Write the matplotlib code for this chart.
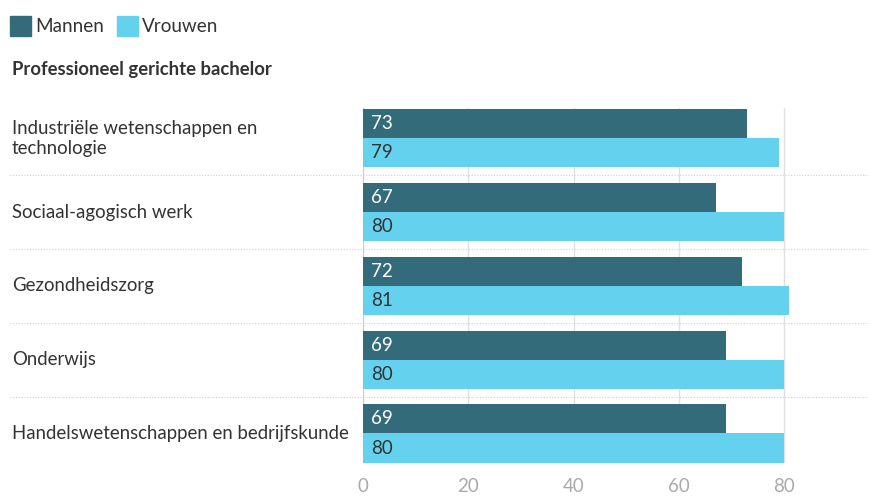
import matplotlib.pyplot as plt
import numpy as np

categories = [
    "Industriële wetenschappen en\ntechnologie",
    "Sociaal-agogisch werk",
    "Gezondheidszorg",
    "Onderwijs",
    "Handelswetenschappen en bedrijfskunde",
]
mannen = [73, 67, 72, 69, 69]
vrouwen = [79, 80, 81, 80, 80]
xticks = [0, 20, 40, 60, 80]

DARK = "#336b7a"
LIGHT = "#64d2ee"
TEXT = "#333333"

plt.rcParams["font.family"] = ["Lato", "DejaVu Sans"]

fig = plt.figure(figsize=(8.69, 4.96), dpi=100)
ax = fig.add_axes([363 / 869, 1 - 463 / 496, 506 / 869, 355 / 496])

y = np.arange(len(categories))
h = 0.395
ax.barh(y - h / 2, mannen, height=h, color=DARK, zorder=2)
ax.barh(y + h / 2, vrouwen, height=h, color=LIGHT, zorder=2)

# value labels inside bars
for i in range(len(categories)):
    ax.text(1.5, y[i] - h / 2, str(mannen[i]), color="white", fontsize=13.5,
            va="center", ha="left", zorder=3)
    ax.text(1.5, y[i] + h / 2, str(vrouwen[i]), color=TEXT, fontsize=13.5,
            va="center", ha="left", zorder=3)

ax.set_xlim(0, 506 / 5.2625)
ax.set_ylim(len(categories) - 0.6, -0.41)

# vertical gridlines
for t in xticks:
    ax.axvline(t, color="#cccccc" if t == 0 else "#e0e0e0", lw=1, zorder=1)

# dotted separators between groups
for i in range(len(categories) - 1):
    ax.plot([-0.698, 1], [i + 0.5, i + 0.5], transform=ax.get_yaxis_transform(),
            color="#d0d0d0", lw=0.8, ls=(0, (1, 1.5)), clip_on=False, zorder=1)

ax.set_xticks(xticks)
ax.set_xticklabels([str(t) for t in xticks])
ax.tick_params(axis="x", length=0, labelsize=13.5, labelcolor="#aaaaaa", pad=11)
ax.set_yticks([])
for s in ax.spines.values():
    s.set_visible(False)

# category labels
for i, c in enumerate(categories):
    ax.text(-(363 - 12) / 506, i, c, transform=ax.get_yaxis_transform(),
            fontsize=13.4, color=TEXT, va="center", ha="left", linespacing=1.2)

# subtitle
fig.text(12 / 869, 1 - 69 / 496, "Professioneel gerichte bachelor", fontsize=13.3,
         fontweight="bold", color=TEXT, va="center", ha="left")

# legend
legend_items = [("Mannen", DARK, 10), ("Vrouwen", LIGHT, 117)]
for label, col, x0 in legend_items:
    fig.patches.append(plt.Rectangle((x0 / 869, 1 - 36 / 496), 21 / 869, 20 / 496,
                                     transform=fig.transFigure, color=col))
    fig.text((x0 + 25) / 869, 1 - 26 / 496, label, fontsize=13.6, color=TEXT,
             va="center", ha="left")

fig.savefig("out.png", dpi=100)
